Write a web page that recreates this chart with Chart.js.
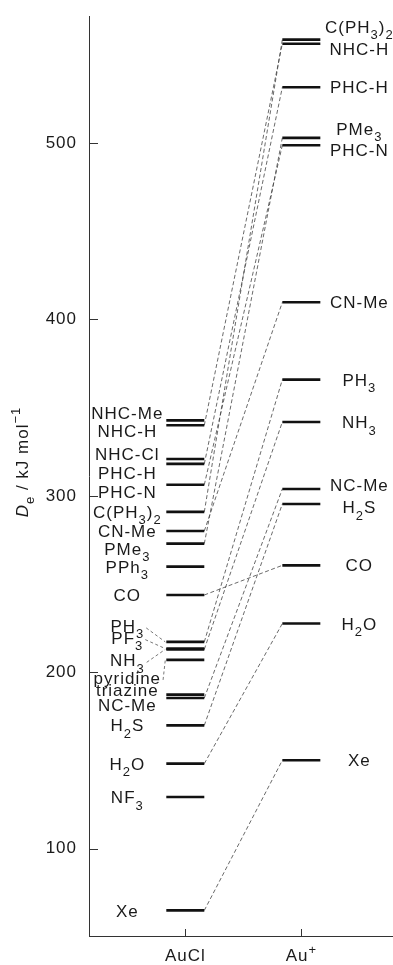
<!DOCTYPE html>
<html>
<head>
<meta charset="utf-8">
<script src="https://cdn.jsdelivr.net/npm/chart.js@4/dist/chart.umd.min.js"></script>
<style>
  html, body { margin: 0; padding: 0; background: #fff; }
  canvas { display: block; }
</style>
</head>
<body>
<canvas id="levels" width="393" height="965"></canvas>
<script>
// _{..} subscript, ^{..} superscript, *{..} italic
const categories = ['AuCl', 'Au^{+}'];

const ligandsAuCl = ['NHC-Me', 'NHC-H', 'NHC-Cl', 'PHC-H', 'PHC-N', 'C(PH_{3})_{2}', 'CN-Me', 'PMe_{3}',
  'PPh_{3}', 'CO', 'PH_{3}', 'PF_{3}', 'NH_{3}', 'pyridine', 'triazine', 'NC-Me', 'H_{2}S', 'H_{2}O',
  'NF_{3}', 'Xe'];
const deAuCl = [342.8, 340.0, 320.9, 318.1, 306.3, 290.9, 280.1, 272.9,
  259.9, 243.8, 217.2, 213.4, 213.0, 207.0, 187.3, 185.4, 169.9, 148.2,
  129.3, 65.0];

const ligandsAuPlus = ['C(PH_{3})_{2}', 'NHC-H', 'PHC-H', 'PMe_{3}', 'PHC-N', 'CN-Me', 'PH_{3}', 'NH_{3}',
  'NC-Me', 'H_{2}S', 'CO', 'H_{2}O', 'Xe'];
const deAuPlus = [558.6, 556.3, 531.6, 502.9, 498.7, 409.7, 365.9, 341.9,
  303.9, 295.4, 260.6, 227.6, 150.1];

const yTicks = [100, 200, 300, 400, 500];

// label nudges (px) so crowded names don't overlap
const nudgeAuCl = [-7, 6, -5, 9, 7, 0, 0, 5, 0, 0, -16, -11, 11, 18, -5, 7, 0, 0, 0, 0];
const nudgeAuPlus = [-13, 5, 0, -9, 5, 0, 0, 0, -4, 3, 0, 0, 0];
const leaderAuCl = ['PH_{3}', 'PF_{3}', 'NH_{3}', 'pyridine'];

const FONT = "'Liberation Sans', Arial, Helvetica, sans-serif";
const FS = 17;
const BAR_HALF = 19;
const LABEL_GAP = 58;
const INK = '#1a1a1a';

function parseRich(str) {
  const parts = [];
  const re = /([_^*])\{([^}]*)\}|([^_^*]+)/g;
  let m;
  while ((m = re.exec(str))) {
    if (m[3]) parts.push({ t: m[3], k: 'n' });
    else parts.push({ t: m[2], k: m[1] === '_' ? 'sub' : m[1] === '^' ? 'sup' : 'it' });
  }
  return parts;
}

function partFont(p, size) {
  const s = p.k === 'sub' || p.k === 'sup' ? Math.round(size * 0.78) : size;
  return (p.k === 'it' ? 'italic ' : '') + s + 'px ' + FONT;
}

function richWidth(ctx, str, size) {
  let w = 0;
  parseRich(str).forEach(p => { ctx.font = partFont(p, size); w += ctx.measureText(p.t).width; });
  return w;
}

// draws text with cap centre at yMid
function drawRich(ctx, str, x, yMid, align, size) {
  const w = richWidth(ctx, str, size);
  let cx = align === 'center' ? x - w / 2 : align === 'right' ? x - w : x;
  const base = yMid + size * 0.36;
  ctx.textAlign = 'left';
  ctx.textBaseline = 'alphabetic';
  parseRich(str).forEach(p => {
    ctx.font = partFont(p, size);
    const dy = p.k === 'sub' ? size * 0.38 : p.k === 'sup' ? -size * 0.42 : 0;
    ctx.fillText(p.t, cx, base + dy);
    cx += ctx.measureText(p.t).width;
  });
  return w;
}

const levelPlugin = {
  id: 'levels',
  beforeDraw(chart) {
    chart.ctx.letterSpacing = '1px';
  },
  beforeDatasetsDraw(chart) {
    const { ctx, scales: { x, y } } = chart;
    const xl = x.getPixelForValue(0) + BAR_HALF;
    const xr = x.getPixelForValue(1) - BAR_HALF;
    ctx.save();
    ctx.strokeStyle = '#444';
    ctx.lineWidth = 0.8;
    ctx.setLineDash([4, 2.5]);
    ligandsAuPlus.forEach((name, i) => {
      const j = ligandsAuCl.indexOf(name);
      if (j < 0) return;
      ctx.beginPath();
      ctx.moveTo(xl, y.getPixelForValue(deAuCl[j]));
      ctx.lineTo(xr, y.getPixelForValue(deAuPlus[i]));
      ctx.stroke();
    });
    ctx.restore();
  },
  afterDraw(chart) {
    const { ctx, chartArea: a, scales: { x, y } } = chart;
    ctx.save();
    ctx.letterSpacing = '1px';
    ctx.fillStyle = INK;
    ctx.strokeStyle = '#333';
    ctx.lineWidth = 1;

    // inward tick marks
    ctx.beginPath();
    yTicks.forEach(v => {
      const py = Math.round(y.getPixelForValue(v)) + 0.5;
      ctx.moveTo(a.left, py); ctx.lineTo(a.left + 9, py);
    });
    categories.forEach((c, i) => {
      const px = Math.round(x.getPixelForValue(i)) + 0.5;
      ctx.moveTo(px, a.bottom); ctx.lineTo(px, a.bottom - 7);
    });
    ctx.stroke();

    // category labels
    categories.forEach((c, i) => drawRich(ctx, c, x.getPixelForValue(i), a.bottom + 19, 'center', FS));

    // ligand labels, AuCl side
    const cl = x.getPixelForValue(0) - LABEL_GAP;
    ligandsAuCl.forEach((name, i) => {
      const py = y.getPixelForValue(deAuCl[i]);
      const ly = py + nudgeAuCl[i];
      ctx.fillStyle = INK;
      const w = drawRich(ctx, name, cl, ly, 'center', FS);
      if (leaderAuCl.includes(name)) {
        ctx.save();
        ctx.strokeStyle = '#555';
        ctx.lineWidth = 0.8;
        ctx.setLineDash([3, 2.5]);
        ctx.beginPath();
        ctx.moveTo(cl + w / 2 + 2, ly + 2);
        ctx.lineTo(x.getPixelForValue(0) - BAR_HALF - 1, py);
        ctx.stroke();
        ctx.restore();
      }
    });

    // ligand labels, Au+ side
    const cr = x.getPixelForValue(1) + LABEL_GAP;
    ligandsAuPlus.forEach((name, i) => {
      drawRich(ctx, name, cr, y.getPixelForValue(deAuPlus[i]) + nudgeAuPlus[i], 'center', FS);
    });

    // axis title
    ctx.translate(21.5, (a.top + a.bottom) / 2 - 14);
    ctx.rotate(-Math.PI / 2);
    drawRich(ctx, '*{D}_{e} / kJ mol^{\u22121}', 0, 0, 'center', FS);
    ctx.restore();
  }
};

const barStyle = {
  pointStyle: 'line',
  pointRadius: BAR_HALF,
  pointHoverRadius: BAR_HALF,
  pointBorderWidth: 2.6,
  borderColor: '#111',
  backgroundColor: '#111',
  showLine: false
};

new Chart(document.getElementById('levels').getContext('2d'), {
  type: 'scatter',
  data: {
    datasets: [
      Object.assign({ label: 'AuCl', data: deAuCl.map(v => ({ x: 0, y: v })) }, barStyle),
      Object.assign({ label: 'Au+', data: deAuPlus.map(v => ({ x: 1, y: v })) }, barStyle)
    ]
  },
  options: {
    responsive: false,
    animation: false,
    events: [],
    layout: { autoPadding: false, padding: { top: 16, right: 0, left: 0, bottom: 0 } },
    plugins: { legend: { display: false }, tooltip: { enabled: false } },
    scales: {
      x: {
        type: 'linear',
        min: -0.83,
        max: 1.79,
        grid: { display: false, drawTicks: false },
        border: { color: '#333', width: 1 },
        ticks: { display: false },
        afterFit: s => { s.height = 29; }
      },
      y: {
        min: 50.5,
        max: 572,
        afterBuildTicks: s => { s.ticks = yTicks.map(v => ({ value: v })); },
        grid: { display: false, drawTicks: false },
        border: { color: '#333', width: 1 },
        ticks: { color: INK, padding: 12, font: { family: FONT, size: FS } },
        afterFit: s => { s.width = 89; s.paddingTop = 0; s.paddingBottom = 0; }
      }
    }
  },
  plugins: [levelPlugin]
});
</script>
</body>
</html>
